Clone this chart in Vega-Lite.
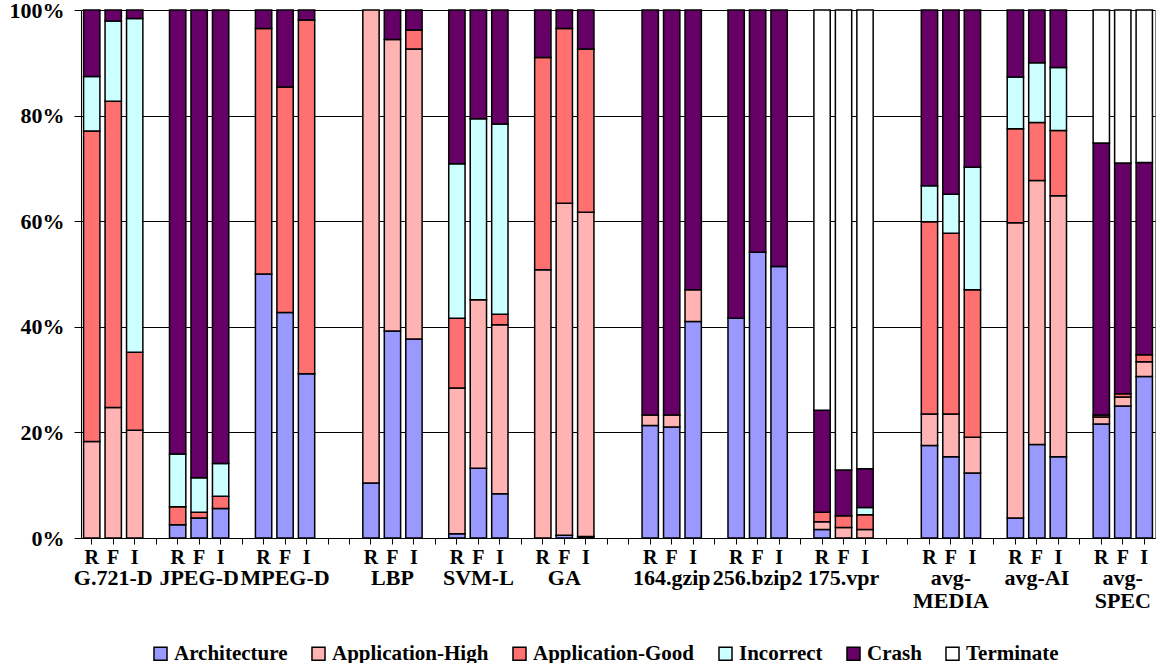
{
  "$schema": "https://vega.github.io/schema/vega-lite/v6.json",
  "width": 1074,
  "height": 528,
  "autosize": {"type": "none"},
  "padding": {"left": 81, "top": 10, "right": 7, "bottom": 125},
  "background": "white",
  "config": {
    "view": {"stroke": "#808080", "strokeWidth": 1},
    "font": "Liberation Serif",
    "axis": {"labelFont": "Liberation Serif", "labelFontWeight": "bold", "labelColor": "#000", "domainColor": "#000", "tickColor": "#000"}
  },
  "datasets": {
    "groups": [
      {"s": "G.721-D F", "label": "G.721-D"},
      {"s": "JPEG-D F", "label": "JPEG-D"},
      {"s": "MPEG-D F", "label": "MPEG-D"},
      {"s": "LBP F", "label": "LBP"},
      {"s": "SVM-L F", "label": "SVM-L"},
      {"s": "GA F", "label": "GA"},
      {"s": "164.gzip F", "label": "164.gzip"},
      {"s": "256.bzip2 F", "label": "256.bzip2"},
      {"s": "175.vpr F", "label": "175.vpr"},
      {"s": "avg-MEDIA F", "label": "avg-\nMEDIA"},
      {"s": "avg-AI F", "label": "avg-AI"},
      {"s": "avg-SPEC F", "label": "avg-\nSPEC"}
    ],
    "bars": [
      {"s": "G.721-D R", "cat": "Application-High", "v": 18.3},
      {"s": "G.721-D R", "cat": "Application-Good", "v": 58.8},
      {"s": "G.721-D R", "cat": "Incorrect", "v": 10.3},
      {"s": "G.721-D R", "cat": "Crash", "v": 12.6},
      {"s": "G.721-D F", "cat": "Application-High", "v": 24.7},
      {"s": "G.721-D F", "cat": "Application-Good", "v": 58.0},
      {"s": "G.721-D F", "cat": "Incorrect", "v": 15.2},
      {"s": "G.721-D F", "cat": "Crash", "v": 2.1},
      {"s": "G.721-D I", "cat": "Application-High", "v": 20.4},
      {"s": "G.721-D I", "cat": "Application-Good", "v": 14.8},
      {"s": "G.721-D I", "cat": "Incorrect", "v": 63.2},
      {"s": "G.721-D I", "cat": "Crash", "v": 1.6},
      {"s": "JPEG-D R", "cat": "Architecture", "v": 2.5},
      {"s": "JPEG-D R", "cat": "Application-Good", "v": 3.4},
      {"s": "JPEG-D R", "cat": "Incorrect", "v": 10.0},
      {"s": "JPEG-D R", "cat": "Crash", "v": 84.1},
      {"s": "JPEG-D F", "cat": "Architecture", "v": 3.8},
      {"s": "JPEG-D F", "cat": "Application-Good", "v": 1.1},
      {"s": "JPEG-D F", "cat": "Incorrect", "v": 6.5},
      {"s": "JPEG-D F", "cat": "Crash", "v": 88.6},
      {"s": "JPEG-D I", "cat": "Architecture", "v": 5.6},
      {"s": "JPEG-D I", "cat": "Application-Good", "v": 2.3},
      {"s": "JPEG-D I", "cat": "Incorrect", "v": 6.2},
      {"s": "JPEG-D I", "cat": "Crash", "v": 85.9},
      {"s": "MPEG-D R", "cat": "Architecture", "v": 50.0},
      {"s": "MPEG-D R", "cat": "Application-Good", "v": 46.5},
      {"s": "MPEG-D R", "cat": "Crash", "v": 3.5},
      {"s": "MPEG-D F", "cat": "Architecture", "v": 42.7},
      {"s": "MPEG-D F", "cat": "Application-Good", "v": 42.7},
      {"s": "MPEG-D F", "cat": "Crash", "v": 14.6},
      {"s": "MPEG-D I", "cat": "Architecture", "v": 31.1},
      {"s": "MPEG-D I", "cat": "Application-Good", "v": 67.0},
      {"s": "MPEG-D I", "cat": "Crash", "v": 1.9},
      {"s": "LBP R", "cat": "Architecture", "v": 10.4},
      {"s": "LBP R", "cat": "Application-High", "v": 89.6},
      {"s": "LBP F", "cat": "Architecture", "v": 39.2},
      {"s": "LBP F", "cat": "Application-High", "v": 55.2},
      {"s": "LBP F", "cat": "Crash", "v": 5.6},
      {"s": "LBP I", "cat": "Architecture", "v": 37.7},
      {"s": "LBP I", "cat": "Application-High", "v": 54.9},
      {"s": "LBP I", "cat": "Application-Good", "v": 3.6},
      {"s": "LBP I", "cat": "Crash", "v": 3.8},
      {"s": "SVM-L R", "cat": "Architecture", "v": 0.8},
      {"s": "SVM-L R", "cat": "Application-High", "v": 27.6},
      {"s": "SVM-L R", "cat": "Application-Good", "v": 13.2},
      {"s": "SVM-L R", "cat": "Incorrect", "v": 29.3},
      {"s": "SVM-L R", "cat": "Crash", "v": 29.1},
      {"s": "SVM-L F", "cat": "Architecture", "v": 13.2},
      {"s": "SVM-L F", "cat": "Application-High", "v": 31.9},
      {"s": "SVM-L F", "cat": "Incorrect", "v": 34.3},
      {"s": "SVM-L F", "cat": "Crash", "v": 20.6},
      {"s": "SVM-L I", "cat": "Architecture", "v": 8.4},
      {"s": "SVM-L I", "cat": "Application-High", "v": 32.0},
      {"s": "SVM-L I", "cat": "Application-Good", "v": 2.0},
      {"s": "SVM-L I", "cat": "Incorrect", "v": 36.0},
      {"s": "SVM-L I", "cat": "Crash", "v": 21.6},
      {"s": "GA R", "cat": "Application-High", "v": 50.8},
      {"s": "GA R", "cat": "Application-Good", "v": 40.2},
      {"s": "GA R", "cat": "Crash", "v": 9.0},
      {"s": "GA F", "cat": "Architecture", "v": 0.5},
      {"s": "GA F", "cat": "Application-High", "v": 62.9},
      {"s": "GA F", "cat": "Application-Good", "v": 33.1},
      {"s": "GA F", "cat": "Crash", "v": 3.5},
      {"s": "GA I", "cat": "Architecture", "v": 0.3},
      {"s": "GA I", "cat": "Application-High", "v": 61.4},
      {"s": "GA I", "cat": "Application-Good", "v": 30.9},
      {"s": "GA I", "cat": "Crash", "v": 7.4},
      {"s": "164.gzip R", "cat": "Architecture", "v": 21.3},
      {"s": "164.gzip R", "cat": "Application-High", "v": 2.0},
      {"s": "164.gzip R", "cat": "Crash", "v": 76.7},
      {"s": "164.gzip F", "cat": "Architecture", "v": 21.0},
      {"s": "164.gzip F", "cat": "Application-High", "v": 2.3},
      {"s": "164.gzip F", "cat": "Crash", "v": 76.7},
      {"s": "164.gzip I", "cat": "Architecture", "v": 41.0},
      {"s": "164.gzip I", "cat": "Application-High", "v": 6.0},
      {"s": "164.gzip I", "cat": "Crash", "v": 53.0},
      {"s": "256.bzip2 R", "cat": "Architecture", "v": 41.6},
      {"s": "256.bzip2 R", "cat": "Crash", "v": 58.4},
      {"s": "256.bzip2 F", "cat": "Architecture", "v": 54.1},
      {"s": "256.bzip2 F", "cat": "Crash", "v": 45.9},
      {"s": "256.bzip2 I", "cat": "Architecture", "v": 51.4},
      {"s": "256.bzip2 I", "cat": "Crash", "v": 48.6},
      {"s": "175.vpr R", "cat": "Architecture", "v": 1.6},
      {"s": "175.vpr R", "cat": "Application-High", "v": 1.5},
      {"s": "175.vpr R", "cat": "Application-Good", "v": 1.8},
      {"s": "175.vpr R", "cat": "Crash", "v": 19.3},
      {"s": "175.vpr R", "cat": "Terminate", "v": 75.8},
      {"s": "175.vpr F", "cat": "Application-High", "v": 2.0},
      {"s": "175.vpr F", "cat": "Application-Good", "v": 2.2},
      {"s": "175.vpr F", "cat": "Crash", "v": 8.7},
      {"s": "175.vpr F", "cat": "Terminate", "v": 87.1},
      {"s": "175.vpr I", "cat": "Application-High", "v": 1.6},
      {"s": "175.vpr I", "cat": "Application-Good", "v": 2.8},
      {"s": "175.vpr I", "cat": "Incorrect", "v": 1.4},
      {"s": "175.vpr I", "cat": "Crash", "v": 7.3},
      {"s": "175.vpr I", "cat": "Terminate", "v": 86.9},
      {"s": "avg-MEDIA R", "cat": "Architecture", "v": 17.5},
      {"s": "avg-MEDIA R", "cat": "Application-High", "v": 6.0},
      {"s": "avg-MEDIA R", "cat": "Application-Good", "v": 36.4},
      {"s": "avg-MEDIA R", "cat": "Incorrect", "v": 6.8},
      {"s": "avg-MEDIA R", "cat": "Crash", "v": 33.3},
      {"s": "avg-MEDIA F", "cat": "Architecture", "v": 15.4},
      {"s": "avg-MEDIA F", "cat": "Application-High", "v": 8.1},
      {"s": "avg-MEDIA F", "cat": "Application-Good", "v": 34.2},
      {"s": "avg-MEDIA F", "cat": "Incorrect", "v": 7.4},
      {"s": "avg-MEDIA F", "cat": "Crash", "v": 34.9},
      {"s": "avg-MEDIA I", "cat": "Architecture", "v": 12.3},
      {"s": "avg-MEDIA I", "cat": "Application-High", "v": 6.8},
      {"s": "avg-MEDIA I", "cat": "Application-Good", "v": 27.9},
      {"s": "avg-MEDIA I", "cat": "Incorrect", "v": 23.2},
      {"s": "avg-MEDIA I", "cat": "Crash", "v": 29.8},
      {"s": "avg-AI R", "cat": "Architecture", "v": 3.8},
      {"s": "avg-AI R", "cat": "Application-High", "v": 55.9},
      {"s": "avg-AI R", "cat": "Application-Good", "v": 17.8},
      {"s": "avg-AI R", "cat": "Incorrect", "v": 9.8},
      {"s": "avg-AI R", "cat": "Crash", "v": 12.7},
      {"s": "avg-AI F", "cat": "Architecture", "v": 17.7},
      {"s": "avg-AI F", "cat": "Application-High", "v": 50.0},
      {"s": "avg-AI F", "cat": "Application-Good", "v": 11.0},
      {"s": "avg-AI F", "cat": "Incorrect", "v": 11.3},
      {"s": "avg-AI F", "cat": "Crash", "v": 10.0},
      {"s": "avg-AI I", "cat": "Architecture", "v": 15.4},
      {"s": "avg-AI I", "cat": "Application-High", "v": 49.4},
      {"s": "avg-AI I", "cat": "Application-Good", "v": 12.4},
      {"s": "avg-AI I", "cat": "Incorrect", "v": 11.9},
      {"s": "avg-AI I", "cat": "Crash", "v": 10.9},
      {"s": "avg-SPEC R", "cat": "Architecture", "v": 21.6},
      {"s": "avg-SPEC R", "cat": "Application-High", "v": 1.3},
      {"s": "avg-SPEC R", "cat": "Application-Good", "v": 0.4},
      {"s": "avg-SPEC R", "cat": "Crash", "v": 51.5},
      {"s": "avg-SPEC R", "cat": "Terminate", "v": 25.2},
      {"s": "avg-SPEC F", "cat": "Architecture", "v": 25.0},
      {"s": "avg-SPEC F", "cat": "Application-High", "v": 1.7},
      {"s": "avg-SPEC F", "cat": "Application-Good", "v": 0.6},
      {"s": "avg-SPEC F", "cat": "Crash", "v": 43.7},
      {"s": "avg-SPEC F", "cat": "Terminate", "v": 29.0},
      {"s": "avg-SPEC I", "cat": "Architecture", "v": 30.6},
      {"s": "avg-SPEC I", "cat": "Application-High", "v": 2.8},
      {"s": "avg-SPEC I", "cat": "Application-Good", "v": 1.3},
      {"s": "avg-SPEC I", "cat": "Crash", "v": 36.4},
      {"s": "avg-SPEC I", "cat": "Terminate", "v": 28.9}
    ]
  },
  "layer": [
    {
      "data": {"name": "bars"},
      "transform": [
        {"stack": "v", "groupby": ["s"], "as": ["y0", "y1"]}
      ],
      "mark": {"type": "bar", "stroke": "#000", "strokeWidth": 1.5},
      "encoding": {
        "x": {
          "field": "s", "type": "nominal",
          "scale": {"domain": ["G.721-D R","G.721-D F","G.721-D I","_1","JPEG-D R","JPEG-D F","JPEG-D I","_2","MPEG-D R","MPEG-D F","MPEG-D I","_3","_4","LBP R","LBP F","LBP I","_5","SVM-L R","SVM-L F","SVM-L I","_6","GA R","GA F","GA I","_7","_8","164.gzip R","164.gzip F","164.gzip I","_9","256.bzip2 R","256.bzip2 F","256.bzip2 I","_10","175.vpr R","175.vpr F","175.vpr I","_11","_12","avg-MEDIA R","avg-MEDIA F","avg-MEDIA I","_13","avg-AI R","avg-AI F","avg-AI I","_14","avg-SPEC R","avg-SPEC F","avg-SPEC I"], "paddingInner": 0.24, "paddingOuter": 0.12},
          "axis": {"title": null, "labelAngle": 0, "labelExpr": "indexof(datum.value,'_')==0 ? '' : slice(datum.value,-1)", "labelFontSize": 20, "labelPadding": 3, "tickSize": 6}
        },
        "y": {
          "field": "y0", "type": "quantitative",
          "scale": {"domain": [0, 100], "nice": false},
          "axis": {"title": null, "values": [0, 20, 40, 60, 80, 100], "labelExpr": "datum.value + '%'", "labelFontSize": 22, "tickSize": 7, "labelPadding": 10, "gridColor": "#000", "gridOpacity": 1}
        },
        "y2": {"field": "y1"},
        "color": {
          "field": "cat", "type": "nominal",
          "scale": {
            "domain": ["Architecture", "Application-High", "Application-Good", "Incorrect", "Crash", "Terminate"],
            "range": ["#9999FF", "#FFB3B3", "#FF7070", "#CCFFFF", "#660066", "#FFFFFF"]
          },
          "legend": {
            "orient": "bottom", "direction": "horizontal", "title": null, "offset": 7, "padding": 69,
            "symbolType": "square", "symbolSize": 170, "symbolStrokeColor": "#000", "symbolStrokeWidth": 1.5,
            "labelFont": "Liberation Serif", "labelFontWeight": "bold", "labelFontSize": 21, "labelColor": "#000", "labelLimit": 400,
            "columnPadding": 20, "labelOffset": 3
          }
        }
      }
    },
    {
      "data": {"name": "groups"},
      "mark": {"type": "text", "font": "Liberation Serif", "fontWeight": "bold", "fontSize": 22, "color": "#000", "lineBreak": "\n", "lineHeight": 23, "baseline": "middle"},
      "encoding": {
        "x": {"field": "s", "type": "nominal"},
        "y": {"datum": -7.5, "type": "quantitative"},
        "text": {"field": "label", "type": "nominal"}
      }
    }
  ]
}
